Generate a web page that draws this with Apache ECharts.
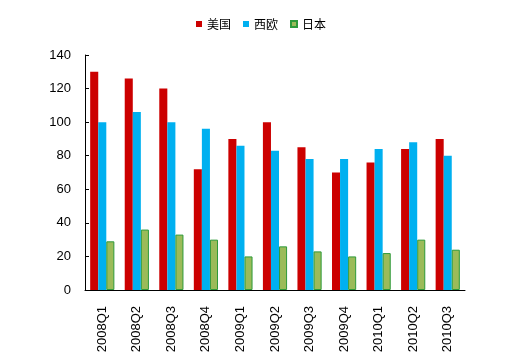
<!DOCTYPE html>
<html><head><meta charset="utf-8">
<script src="https://cdn.jsdelivr.net/npm/echarts@6/dist/echarts.min.js"></script>
<style>html,body{margin:0;padding:0;background:#fff}#c{width:513px;height:357px}</style>
</head><body><div id="c"></div>
<script>
var categories = ['2008Q1','2008Q2','2008Q3','2008Q4','2009Q1','2009Q2','2009Q3','2009Q4','2010Q1','2010Q2','2010Q3'];
var usa = [130,126,120,72,90,100,85,70,76,84,90];
var europe = [100,106,100,96,86,83,78,78,84,88,80];
var japan = [29,36,33,30,20,26,23,20,22,30,24];
var yTicks = [0,20,40,60,80,100,120,140];

var chart = echarts.init(document.getElementById('c'));
var font = '"Liberation Sans", Arial, sans-serif';
chart.setOption({
  animation: false,
  textStyle: {fontFamily: font},
  legend: {
    top: 13, left: 191, itemWidth: 6, itemHeight: 6, itemGap: 12, icon: 'rect',
    textStyle: {fontSize: 12, color: '#000', fontFamily: '"Noto Sans CJK SC", sans-serif'},
    data: ['美国','西欧','日本']
  },
  grid: {left: 85, right: 48, top: 55, bottom: 67},
  xAxis: {
    type: 'category', data: categories,
    axisLine: {lineStyle: {color: '#000', width: 1}},
    axisTick: {inside: true, length: 4, lineStyle: {color: '#000'}},
    axisLabel: {rotate: 90, color: '#000', fontSize: 13, margin: 16, fontFamily: font}
  },
  yAxis: {
    type: 'value', min: yTicks[0], max: yTicks[yTicks.length-1], interval: 20,
    splitLine: {show: false},
    axisLine: {show: true, lineStyle: {color: '#000', width: 1}},
    axisTick: {show: true, inside: true, length: 4, lineStyle: {color: '#000'}},
    axisLabel: {color: '#000', fontSize: 13, margin: 14, fontFamily: font}
  },
  series: [
    {name: '美国', type: 'bar', data: usa, barGap: '0%', barCategoryGap: '30%', itemStyle: {color: '#CC0000'}},
    {name: '西欧', type: 'bar', data: europe, itemStyle: {color: '#00B0F0'}},
    {name: '日本', type: 'bar', data: japan, itemStyle: {color: '#9BBB59', borderColor: '#2E9A3A', borderWidth: 1}}
  ]
});
</script></body></html>
